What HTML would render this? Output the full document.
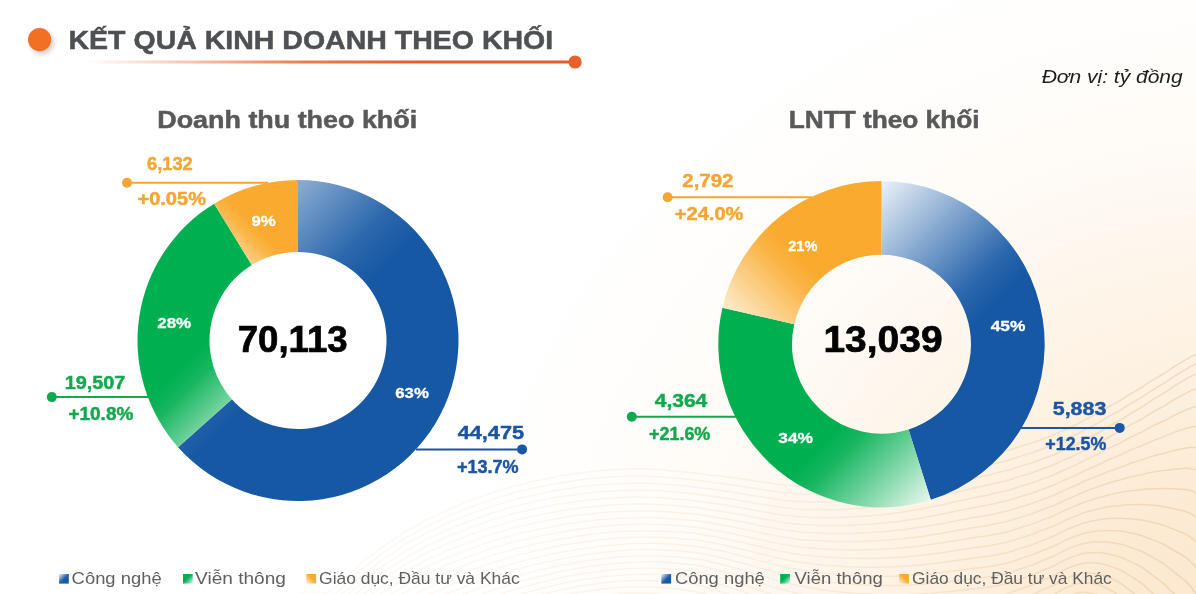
<!DOCTYPE html>
<html lang="vi"><head><meta charset="utf-8"><title>Kết quả kinh doanh theo khối</title>
<style>
html,body{margin:0;padding:0;}
body{width:1196px;height:594px;overflow:hidden;background:#fff;font-family:"Liberation Sans",sans-serif;}
#bg{position:absolute;left:0;top:0;width:1196px;height:594px;
background:radial-gradient(ellipse 830px 750px at 1250px 650px, #FCE8CD 0%, #FCE8CF 7.5%, #FCEAD3 20%, #FDEFDD 33%, #FEF4E7 47%, #FEF8F1 60%, #FFFCF8 73%, #FFFEFD 87%, #FFFFFF 100%);}
svg{position:absolute;left:0;top:0;font-family:"Liberation Sans",sans-serif;}
</style></head><body>
<div id="bg"></div>
<svg width="1196" height="594" viewBox="0 0 1196 594">
<defs><linearGradient id="Lb" gradientUnits="userSpaceOnUse" x1="178.06" y1="180.00" x2="478.78" y2="480.72"><stop offset="0" stop-color="#ECF2F8"/><stop offset="0.402" stop-color="#2B67AC"/><stop offset="0.49" stop-color="#1658A4"/><stop offset="1" stop-color="#1658A4"/></linearGradient><linearGradient id="Lg" gradientUnits="userSpaceOnUse" x1="251.78" y1="447.15" x2="72.88" y2="268.25"><stop offset="0" stop-color="#F0FAF4"/><stop offset="0.344" stop-color="#17B660"/><stop offset="0.42" stop-color="#00AF50"/><stop offset="1" stop-color="#00AF50"/></linearGradient><linearGradient id="Lo" gradientUnits="userSpaceOnUse" x1="214.18" y1="265.03" x2="298.60" y2="180.60"><stop offset="0" stop-color="#FEF5E6"/><stop offset="0.394" stop-color="#FAB342"/><stop offset="0.48" stop-color="#FAAB2F"/><stop offset="1" stop-color="#FAAB2F"/></linearGradient><linearGradient id="Rb" gradientUnits="userSpaceOnUse" x1="881.50" y1="181.00" x2="1122.49" y2="421.99"><stop offset="0" stop-color="#ECF2F8"/><stop offset="0.402" stop-color="#2B67AC"/><stop offset="0.49" stop-color="#1658A4"/><stop offset="1" stop-color="#1658A4"/></linearGradient><linearGradient id="Rg" gradientUnits="userSpaceOnUse" x1="930.77" y1="507.40" x2="724.70" y2="301.33"><stop offset="0" stop-color="#F0FAF4"/><stop offset="0.344" stop-color="#17B660"/><stop offset="0.42" stop-color="#00AF50"/><stop offset="1" stop-color="#00AF50"/></linearGradient><linearGradient id="Ro" gradientUnits="userSpaceOnUse" x1="722.43" y1="324.20" x2="873.56" y2="173.06"><stop offset="0" stop-color="#FEF5E6"/><stop offset="0.394" stop-color="#FAB342"/><stop offset="0.48" stop-color="#FAAB2F"/><stop offset="1" stop-color="#FAAB2F"/></linearGradient><linearGradient id="sqb59" gradientUnits="userSpaceOnUse" x1="59.00" y1="574.00" x2="68.70" y2="583.70"><stop offset="0" stop-color="#ECF2F8"/><stop offset="0.492" stop-color="#2B67AC"/><stop offset="0.6" stop-color="#1658A4"/><stop offset="1" stop-color="#1658A4"/></linearGradient><linearGradient id="sqg183" gradientUnits="userSpaceOnUse" x1="192.80" y1="583.60" x2="183.10" y2="573.90"><stop offset="0" stop-color="#F0FAF4"/><stop offset="0.492" stop-color="#17B660"/><stop offset="0.6" stop-color="#00AF50"/><stop offset="1" stop-color="#00AF50"/></linearGradient><linearGradient id="sqo306" gradientUnits="userSpaceOnUse" x1="306.30" y1="583.60" x2="316.00" y2="573.90"><stop offset="0" stop-color="#FEF5E6"/><stop offset="0.492" stop-color="#FAB342"/><stop offset="0.6" stop-color="#FAAB2F"/><stop offset="1" stop-color="#FAAB2F"/></linearGradient><linearGradient id="sqb661" gradientUnits="userSpaceOnUse" x1="661.30" y1="574.00" x2="671.00" y2="583.70"><stop offset="0" stop-color="#ECF2F8"/><stop offset="0.492" stop-color="#2B67AC"/><stop offset="0.6" stop-color="#1658A4"/><stop offset="1" stop-color="#1658A4"/></linearGradient><linearGradient id="sqg780" gradientUnits="userSpaceOnUse" x1="790.00" y1="583.60" x2="780.30" y2="573.90"><stop offset="0" stop-color="#F0FAF4"/><stop offset="0.492" stop-color="#17B660"/><stop offset="0.6" stop-color="#00AF50"/><stop offset="1" stop-color="#00AF50"/></linearGradient><linearGradient id="sqo899" gradientUnits="userSpaceOnUse" x1="899.10" y1="583.60" x2="908.80" y2="573.90"><stop offset="0" stop-color="#FEF5E6"/><stop offset="0.492" stop-color="#FAB342"/><stop offset="0.6" stop-color="#FAAB2F"/><stop offset="1" stop-color="#FAAB2F"/></linearGradient><linearGradient id="tl" gradientUnits="userSpaceOnUse" x1="85" y1="0" x2="576" y2="0"><stop offset="0" stop-color="#E9632B" stop-opacity="0"/><stop offset="0.2" stop-color="#E9632B" stop-opacity="0.35"/><stop offset="0.45" stop-color="#E9632B" stop-opacity="0.85"/><stop offset="0.7" stop-color="#E55A26"/><stop offset="1" stop-color="#E55A26"/></linearGradient><filter id="sh" x="-50%" y="-50%" width="200%" height="200%"><feGaussianBlur stdDeviation="2.5"/></filter><linearGradient id="wv" gradientUnits="userSpaceOnUse" x1="330" y1="0" x2="1196" y2="0"><stop offset="0" stop-color="#E6C7A2" stop-opacity="0.10"/><stop offset="0.5" stop-color="#E6C7A2" stop-opacity="0.20"/><stop offset="1" stop-color="#E2BE95" stop-opacity="0.45"/></linearGradient></defs>
<g fill="none" stroke="url(#wv)" stroke-width="1.5" stroke-linejoin="round"><path d="M300,594.0Q311,594.0 316,594.0Q322,594.0 328,592.4Q333,590.8 338,585.1Q344,579.4 350,574.1Q355,568.9 360,564.2Q366,559.4 372,555.1Q377,550.9 382,546.9Q388,543.0 394,539.3Q399,535.7 404,532.3Q410,528.9 416,525.8Q421,522.7 426,519.9Q432,517.1 438,514.6Q443,512.0 448,509.6Q454,507.2 460,505.0Q465,502.7 470,500.6Q476,498.5 482,496.5Q487,494.5 492,492.7Q498,490.9 504,489.2Q509,487.6 514,486.1Q520,484.6 526,483.2Q531,481.9 536,480.7Q542,479.5 548,478.4Q553,477.3 558,476.3Q564,475.3 570,474.5Q575,473.6 580,472.9Q586,472.2 592,471.6Q597,471.0 602,470.6Q608,470.1 614,469.8Q619,469.5 624,469.3Q630,469.1 636,469.1Q641,469.0 646,469.1Q652,469.3 658,469.6Q663,469.9 668,470.4Q674,470.8 680,471.4Q685,472.0 690,472.6Q696,473.2 702,473.9Q707,474.5 712,475.2Q718,475.8 724,476.4Q729,477.1 734,477.9Q740,478.6 746,479.5Q751,480.3 756,481.2Q762,482.0 768,482.8Q773,483.6 778,484.3Q784,484.9 790,485.3Q795,485.8 800,485.9Q806,486.1 812,486.1Q817,486.1 822,486.0Q828,485.9 834,485.6Q839,485.3 844,484.9Q850,484.5 856,483.9Q861,483.4 866,482.7Q872,482.1 878,481.3Q883,480.5 888,479.7Q894,478.8 900,477.7Q905,476.7 910,475.5Q916,474.3 922,473.0Q927,471.7 932,470.3Q938,469.0 944,467.5Q949,466.0 954,464.5Q960,463.0 966,461.5Q971,460.1 976,458.6Q982,457.2 988,455.8Q993,454.4 998,452.9Q1004,451.4 1010,449.8Q1015,448.3 1020,446.6Q1026,444.9 1032,443.0Q1037,441.2 1042,439.2Q1048,437.1 1054,434.8Q1059,432.6 1064,430.1Q1070,427.5 1076,424.8Q1081,422.1 1086,419.2Q1092,416.3 1098,413.2Q1103,410.2 1108,407.0Q1114,403.9 1120,400.6Q1125,397.3 1130,394.0Q1136,390.7 1142,387.3Q1147,383.9 1152,380.4Q1158,377.0 1164,373.5Q1169,370.1 1174,366.6Q1180,363.1 1186,359.6Q1191,356.2 1196,354.6Q1202,353.0 1208,353.0L1213,353.0"/><path d="M300,600.6Q311,600.5 316,600.5Q322,600.5 328,598.9Q333,597.3 338,591.6Q344,585.9 350,580.6Q355,575.4 360,570.7Q366,565.9 372,561.6Q377,557.3 382,553.4Q388,549.5 394,545.8Q399,542.1 404,538.7Q410,535.4 416,532.3Q421,529.2 426,526.4Q432,523.6 438,521.1Q443,518.5 448,516.1Q454,513.8 460,511.5Q465,509.3 470,507.2Q476,505.1 482,503.1Q487,501.2 492,499.4Q498,497.6 504,495.9Q509,494.3 514,492.8Q520,491.3 526,490.0Q531,488.7 536,487.5Q542,486.3 548,485.2Q553,484.1 558,483.2Q564,482.2 570,481.4Q575,480.6 580,479.8Q586,479.1 592,478.6Q597,478.0 602,477.6Q608,477.1 614,476.8Q619,476.5 624,476.3Q630,476.1 636,476.1Q641,476.0 646,476.2Q652,476.3 658,476.6Q663,477.0 668,477.4Q674,477.9 680,478.4Q685,479.0 690,479.6Q696,480.3 702,480.9Q707,481.6 712,482.3Q718,483.0 724,483.7Q729,484.4 734,485.2Q740,486.0 746,486.9Q751,487.8 756,488.7Q762,489.6 768,490.4Q773,491.2 778,491.9Q784,492.6 790,493.1Q795,493.5 800,493.8Q806,494.0 812,494.1Q817,494.1 822,494.0Q828,493.9 834,493.7Q839,493.4 844,493.1Q850,492.7 856,492.2Q861,491.7 866,491.1Q872,490.5 878,489.8Q883,489.1 888,488.2Q894,487.4 900,486.4Q905,485.4 910,484.3Q916,483.2 922,481.9Q927,480.7 932,479.4Q938,478.1 944,476.6Q949,475.2 954,473.8Q960,472.4 966,470.9Q971,469.5 976,468.2Q982,466.8 988,465.5Q993,464.1 998,462.7Q1004,461.3 1010,459.7Q1015,458.1 1020,456.4Q1026,454.8 1032,452.9Q1037,451.1 1042,449.0Q1048,447.0 1054,444.7Q1059,442.4 1064,439.9Q1070,437.4 1076,434.7Q1081,432.0 1086,429.1Q1092,426.2 1098,423.1Q1103,420.1 1108,416.9Q1114,413.7 1120,410.5Q1125,407.2 1130,403.9Q1136,400.5 1142,397.1Q1147,393.7 1152,390.3Q1158,386.8 1164,383.4Q1169,379.9 1174,376.4Q1180,372.9 1186,369.4Q1191,365.9 1196,364.3Q1202,362.7 1208,362.7L1213,362.7"/><path d="M300,607.1Q311,607.0 316,607.0Q322,607.0 328,605.4Q333,603.7 338,598.0Q344,592.3 350,587.1Q355,581.9 360,577.1Q366,572.4 372,568.1Q377,563.8 382,559.9Q388,555.9 394,552.3Q399,548.6 404,545.3Q410,541.9 416,538.8Q421,535.8 426,533.0Q432,530.2 438,527.7Q443,525.1 448,522.8Q454,520.4 460,518.2Q465,516.0 470,513.9Q476,511.8 482,509.9Q487,507.9 492,506.1Q498,504.3 504,502.7Q509,501.1 514,499.6Q520,498.2 526,496.9Q531,495.6 536,494.4Q542,493.2 548,492.1Q553,491.1 558,490.1Q564,489.2 570,488.4Q575,487.5 580,486.8Q586,486.1 592,485.6Q597,485.0 602,484.6Q608,484.2 614,483.8Q619,483.5 624,483.4Q630,483.2 636,483.1Q641,483.1 646,483.2Q652,483.3 658,483.7Q663,484.0 668,484.4Q674,484.9 680,485.4Q685,486.0 690,486.6Q696,487.2 702,487.9Q707,488.6 712,489.3Q718,490.1 724,490.8Q729,491.5 734,492.4Q740,493.3 746,494.2Q751,495.1 756,496.1Q762,497.0 768,497.9Q773,498.8 778,499.5Q784,500.2 790,500.7Q795,501.2 800,501.5Q806,501.8 812,501.9Q817,502.0 822,501.9Q828,501.9 834,501.7Q839,501.5 844,501.2Q850,500.9 856,500.4Q861,500.0 866,499.4Q872,498.9 878,498.2Q883,497.6 888,496.8Q894,496.0 900,495.1Q905,494.2 910,493.1Q916,492.0 922,490.9Q927,489.7 932,488.4Q938,487.2 944,485.8Q949,484.5 954,483.1Q960,481.8 966,480.4Q971,479.1 976,477.8Q982,476.5 988,475.2Q993,474.0 998,472.6Q1004,471.2 1010,469.6Q1015,468.1 1020,466.4Q1026,464.7 1032,462.9Q1037,461.0 1042,459.0Q1048,456.9 1054,454.7Q1059,452.4 1064,449.9Q1070,447.4 1076,444.7Q1081,441.9 1086,439.0Q1092,436.1 1098,433.1Q1103,430.0 1108,426.8Q1114,423.7 1120,420.4Q1125,417.1 1130,413.8Q1136,410.4 1142,407.0Q1147,403.6 1152,400.1Q1158,396.7 1164,393.2Q1169,389.7 1174,386.2Q1180,382.7 1186,379.2Q1191,375.7 1196,374.1Q1202,372.5 1208,372.5L1213,372.4"/><path d="M344,598.8Q355,588.3 360,583.6Q366,578.9 372,574.6Q377,570.3 382,566.4Q388,562.5 394,558.8Q399,555.2 404,551.8Q410,548.5 416,545.4Q421,542.4 426,539.6Q432,536.9 438,534.3Q443,531.8 448,529.5Q454,527.1 460,524.9Q465,522.7 470,520.7Q476,518.6 482,516.7Q487,514.7 492,513.0Q498,511.2 504,509.6Q509,508.0 514,506.6Q520,505.1 526,503.8Q531,502.5 536,501.3Q542,500.2 548,499.1Q553,498.1 558,497.1Q564,496.2 570,495.4Q575,494.6 580,493.9Q586,493.2 592,492.6Q597,492.1 602,491.6Q608,491.2 614,490.9Q619,490.6 624,490.4Q630,490.2 636,490.2Q641,490.1 646,490.2Q652,490.3 658,490.6Q663,491.0 668,491.4Q674,491.8 680,492.4Q685,492.9 690,493.5Q696,494.1 702,494.8Q707,495.6 712,496.3Q718,497.1 724,497.9Q729,498.6 734,499.5Q740,500.5 746,501.4Q751,502.4 756,503.4Q762,504.4 768,505.3Q773,506.2 778,507.0Q784,507.7 790,508.3Q795,508.9 800,509.2Q806,509.5 812,509.6Q817,509.8 822,509.8Q828,509.8 834,509.7Q839,509.5 844,509.3Q850,509.0 856,508.6Q861,508.2 866,507.7Q872,507.3 878,506.7Q883,506.1 888,505.3Q894,504.6 900,503.8Q905,502.9 910,501.9Q916,500.9 922,499.8Q927,498.7 932,497.5Q938,496.3 944,495.1Q949,493.8 954,492.5Q960,491.2 966,490.0Q971,488.7 976,487.5Q982,486.3 988,485.1Q993,483.9 998,482.6Q1004,481.2 1010,479.7Q1015,478.1 1020,476.4Q1026,474.7 1032,472.9Q1037,471.0 1042,469.0Q1048,467.0 1054,464.7Q1059,462.4 1064,459.9Q1070,457.4 1076,454.7Q1081,452.0 1086,449.2Q1092,446.4 1098,443.5Q1103,440.5 1108,437.5Q1114,434.5 1120,431.4Q1125,428.3 1130,425.2Q1136,422.0 1142,418.9Q1147,415.7 1152,412.5Q1158,409.3 1164,406.1Q1169,402.8 1174,399.6Q1180,396.4 1186,393.3Q1191,390.1 1196,388.8Q1202,387.6 1208,387.9L1213,388.3"/><path d="M344,605.2Q355,594.8 360,590.1Q366,585.4 372,581.1Q377,576.8 382,572.9Q388,569.0 394,565.4Q399,561.8 404,558.5Q410,555.1 416,552.1Q421,549.1 426,546.3Q432,543.6 438,541.1Q443,538.6 448,536.3Q454,533.9 460,531.8Q465,529.6 470,527.6Q476,525.5 482,523.6Q487,521.6 492,519.9Q498,518.2 504,516.6Q509,515.0 514,513.5Q520,512.1 526,510.8Q531,509.5 536,508.4Q542,507.2 548,506.2Q553,505.1 558,504.2Q564,503.3 570,502.5Q575,501.6 580,500.9Q586,500.3 592,499.7Q597,499.1 602,498.7Q608,498.2 614,497.9Q619,497.6 624,497.4Q630,497.2 636,497.1Q641,497.1 646,497.2Q652,497.3 658,497.6Q663,497.9 668,498.3Q674,498.7 680,499.2Q685,499.8 690,500.3Q696,500.9 702,501.7Q707,502.4 712,503.2Q718,504.0 724,504.8Q729,505.7 734,506.6Q740,507.5 746,508.6Q751,509.6 756,510.6Q762,511.6 768,512.6Q773,513.6 778,514.4Q784,515.2 790,515.8Q795,516.4 800,516.8Q806,517.2 812,517.4Q817,517.5 822,517.6Q828,517.7 834,517.6Q839,517.5 844,517.3Q850,517.1 856,516.8Q861,516.5 866,516.1Q872,515.6 878,515.1Q883,514.6 888,513.9Q894,513.3 900,512.5Q905,511.7 910,510.8Q916,509.9 922,508.8Q927,507.8 932,506.7Q938,505.6 944,504.4Q949,503.2 954,502.0Q960,500.8 966,499.6Q971,498.4 976,497.3Q982,496.2 988,495.0Q993,493.9 998,492.6Q1004,491.3 1010,489.8Q1015,488.2 1020,486.5Q1026,484.9 1032,483.0Q1037,481.2 1042,479.1Q1048,477.1 1054,474.8Q1059,472.5 1064,470.0Q1070,467.5 1076,464.9Q1081,462.3 1086,459.6Q1092,456.9 1098,454.1Q1103,451.4 1108,448.6Q1114,445.9 1120,443.1Q1125,440.3 1130,437.5Q1136,434.7 1142,431.9Q1147,429.1 1152,426.3Q1158,423.6 1164,420.8Q1169,418.1 1174,415.4Q1180,412.7 1186,410.0Q1191,407.4 1196,406.7Q1202,406.0 1208,407.0L1213,408.0"/><path d="M355,601.3Q366,591.9 372,587.7Q377,583.4 382,579.6Q388,575.7 394,572.1Q399,568.5 404,565.2Q410,561.8 416,558.9Q421,555.9 426,553.1Q432,550.4 438,547.9Q443,545.5 448,543.1Q454,540.8 460,538.7Q465,536.5 470,534.5Q476,532.5 482,530.6Q487,528.7 492,526.9Q498,525.2 504,523.6Q509,522.0 514,520.6Q520,519.2 526,517.9Q531,516.6 536,515.5Q542,514.3 548,513.3Q553,512.2 558,511.3Q564,510.3 570,509.5Q575,508.7 580,508.0Q586,507.3 592,506.7Q597,506.2 602,505.7Q608,505.2 614,504.9Q619,504.6 624,504.4Q630,504.2 636,504.1Q641,504.0 646,504.1Q652,504.2 658,504.4Q663,504.7 668,505.1Q674,505.5 680,506.0Q685,506.5 690,507.1Q696,507.6 702,508.4Q707,509.2 712,510.0Q718,510.8 724,511.7Q729,512.6 734,513.6Q740,514.5 746,515.6Q751,516.7 756,517.8Q762,518.8 768,519.8Q773,520.8 778,521.7Q784,522.6 790,523.2Q795,523.9 800,524.3Q806,524.8 812,525.0Q817,525.3 822,525.4Q828,525.5 834,525.5Q839,525.5 844,525.4Q850,525.2 856,525.0Q861,524.7 866,524.4Q872,524.0 878,523.6Q883,523.1 888,522.5Q894,522.0 900,521.3Q905,520.6 910,519.7Q916,518.9 922,517.9Q927,517.0 932,515.9Q938,514.9 944,513.8Q949,512.7 954,511.6Q960,510.4 966,509.3Q971,508.2 976,507.2Q982,506.1 988,505.1Q993,504.0 998,502.8Q1004,501.5 1010,500.0Q1015,498.4 1020,496.7Q1026,495.1 1032,493.2Q1037,491.4 1042,489.3Q1048,487.3 1054,485.0Q1059,482.7 1064,480.2Q1070,477.7 1076,475.1Q1081,472.5 1086,470.0Q1092,467.5 1098,465.0Q1103,462.5 1108,460.0Q1114,457.6 1120,455.1Q1125,452.7 1130,450.3Q1136,447.9 1142,445.6Q1147,443.3 1152,441.1Q1158,438.8 1164,436.6Q1169,434.5 1174,432.4Q1180,430.3 1186,428.4Q1191,426.4 1196,426.4Q1202,426.5 1208,428.2L1213,430.0"/><path d="M355,607.9Q366,598.6 372,594.3Q377,590.1 382,586.3Q388,582.4 394,578.8Q399,575.3 404,572.0Q410,568.7 416,565.7Q421,562.7 426,560.0Q432,557.3 438,554.9Q443,552.4 448,550.1Q454,547.8 460,545.7Q465,543.6 470,541.6Q476,539.5 482,537.6Q487,535.7 492,534.0Q498,532.3 504,530.7Q509,529.1 514,527.7Q520,526.3 526,525.0Q531,523.7 536,522.6Q542,521.4 548,520.3Q553,519.3 558,518.4Q564,517.4 570,516.6Q575,515.7 580,515.0Q586,514.3 592,513.7Q597,513.1 602,512.7Q608,512.2 614,511.8Q619,511.5 624,511.2Q630,511.0 636,510.9Q641,510.8 646,510.9Q652,510.9 658,511.2Q663,511.4 668,511.8Q674,512.2 680,512.7Q685,513.2 690,513.7Q696,514.3 702,515.0Q707,515.8 712,516.7Q718,517.6 724,518.5Q729,519.4 734,520.4Q740,521.5 746,522.6Q751,523.7 756,524.8Q762,525.9 768,527.0Q773,528.1 778,529.0Q784,529.9 790,530.6Q795,531.4 800,531.9Q806,532.4 812,532.7Q817,533.0 822,533.2Q828,533.4 834,533.4Q839,533.5 844,533.4Q850,533.4 856,533.2Q861,533.0 866,532.8Q872,532.5 878,532.1Q883,531.7 888,531.2Q894,530.7 900,530.1Q905,529.5 910,528.7Q916,528.0 922,527.1Q927,526.2 932,525.3Q938,524.3 944,523.3Q949,522.3 954,521.2Q960,520.2 966,519.1Q971,518.1 976,517.1Q982,516.2 988,515.2Q993,514.2 998,513.0Q1004,511.8 1010,510.3Q1015,508.7 1020,507.0Q1026,505.3 1032,503.5Q1037,501.6 1042,499.6Q1048,497.5 1054,495.2Q1059,492.9 1064,490.4Q1070,487.8 1076,485.3Q1081,482.8 1086,480.5Q1092,478.2 1098,475.9Q1103,473.7 1108,471.6Q1114,469.5 1120,467.4Q1125,465.4 1130,463.5Q1136,461.6 1142,459.9Q1147,458.1 1152,456.4Q1158,454.8 1164,453.3Q1169,451.8 1174,450.4Q1180,449.1 1186,447.9Q1191,446.7 1196,447.5Q1202,448.4 1208,451.0L1213,453.7"/><path d="M366,605.3Q377,596.9 382,593.1Q388,589.3 394,585.7Q399,582.2 404,578.9Q410,575.6 416,572.7Q421,569.7 426,567.0Q432,564.4 438,561.9Q443,559.5 448,557.2Q454,554.9 460,552.8Q465,550.7 470,548.7Q476,546.7 482,544.8Q487,542.9 492,541.1Q498,539.4 504,537.8Q509,536.3 514,534.8Q520,533.4 526,532.1Q531,530.8 536,529.7Q542,528.5 548,527.4Q553,526.4 558,525.4Q564,524.4 570,523.6Q575,522.7 580,522.0Q586,521.3 592,520.7Q597,520.0 602,519.5Q608,519.1 614,518.7Q619,518.3 624,518.0Q630,517.8 636,517.7Q641,517.5 646,517.6Q652,517.6 658,517.8Q663,518.1 668,518.4Q674,518.8 680,519.3Q685,519.7 690,520.3Q696,520.8 702,521.6Q707,522.4 712,523.3Q718,524.2 724,525.2Q729,526.2 734,527.2Q740,528.3 746,529.5Q751,530.7 756,531.8Q762,533.0 768,534.1Q773,535.3 778,536.3Q784,537.2 790,538.0Q795,538.8 800,539.4Q806,540.0 812,540.3Q817,540.7 822,541.0Q828,541.3 834,541.4Q839,541.6 844,541.6Q850,541.6 856,541.5Q861,541.4 866,541.2Q872,541.0 878,540.7Q883,540.4 888,540.0Q894,539.6 900,539.1Q905,538.5 910,537.8Q916,537.2 922,536.4Q927,535.6 932,534.7Q938,533.9 944,532.9Q949,532.0 954,531.0Q960,530.0 966,529.0Q971,528.1 976,527.2Q982,526.3 988,525.4Q993,524.5 998,523.3Q1004,522.2 1010,520.6Q1015,519.1 1020,517.4Q1026,515.6 1032,513.8Q1037,511.9 1042,509.8Q1048,507.8 1054,505.4Q1059,503.1 1064,500.6Q1070,498.0 1076,495.6Q1081,493.2 1086,491.0Q1092,488.9 1098,486.9Q1103,485.0 1108,483.3Q1114,481.5 1120,480.0Q1125,478.4 1130,477.0Q1136,475.7 1142,474.5Q1147,473.3 1152,472.3Q1158,471.4 1164,470.6Q1169,469.8 1174,469.2Q1180,468.7 1186,468.3Q1191,468.0 1196,469.8Q1202,471.5 1208,475.2L1213,478.8"/><path d="M377,603.8Q388,596.2 394,592.7Q399,589.2 404,585.9Q410,582.7 416,579.7Q421,576.8 426,574.1Q432,571.5 438,569.0Q443,566.6 448,564.3Q454,562.1 460,559.9Q465,557.8 470,555.8Q476,553.8 482,551.9Q487,550.0 492,548.3Q498,546.6 504,545.0Q509,543.4 514,542.0Q520,540.5 526,539.2Q531,537.9 536,536.7Q542,535.5 548,534.5Q553,533.4 558,532.4Q564,531.4 570,530.5Q575,529.7 580,528.9Q586,528.1 592,527.5Q597,526.9 602,526.3Q608,525.8 614,525.4Q619,525.0 624,524.7Q630,524.5 636,524.3Q641,524.2 646,524.2Q652,524.2 658,524.4Q663,524.6 668,525.0Q674,525.3 680,525.8Q685,526.2 690,526.7Q696,527.2 702,528.1Q707,528.9 712,529.9Q718,530.8 724,531.8Q729,532.8 734,534.0Q740,535.1 746,536.4Q751,537.6 756,538.8Q762,540.1 768,541.3Q773,542.5 778,543.5Q784,544.6 790,545.4Q795,546.3 800,546.9Q806,547.6 812,548.1Q817,548.5 822,548.9Q828,549.2 834,549.4Q839,549.7 844,549.8Q850,549.9 856,549.9Q861,549.9 866,549.8Q872,549.6 878,549.4Q883,549.2 888,548.9Q894,548.6 900,548.1Q905,547.7 910,547.1Q916,546.5 922,545.8Q927,545.1 932,544.3Q938,543.5 944,542.6Q949,541.7 954,540.8Q960,539.9 966,539.0Q971,538.2 976,537.3Q982,536.5 988,535.7Q993,534.8 998,533.7Q1004,532.6 1010,531.0Q1015,529.4 1020,527.7Q1026,526.0 1032,524.1Q1037,522.2 1042,520.1Q1048,518.0 1054,515.7Q1059,513.3 1064,510.7Q1070,508.1 1076,505.8Q1081,503.4 1086,501.5Q1092,499.6 1098,498.0Q1103,496.3 1108,495.0Q1114,493.7 1120,492.6Q1125,491.6 1130,490.8Q1136,490.0 1142,489.4Q1147,488.9 1152,488.7Q1158,488.4 1164,488.4Q1169,488.4 1174,488.7Q1180,489.0 1186,489.6Q1191,490.2 1196,493.0Q1202,495.7 1208,500.5L1213,505.2"/><path d="M388,603.3Q399,596.2 404,593.0Q410,589.8 416,586.9Q421,583.9 426,581.3Q432,578.6 438,576.2Q443,573.8 448,571.5Q454,569.3 460,567.1Q465,565.0 470,563.0Q476,561.0 482,559.1Q487,557.2 492,555.4Q498,553.7 504,552.1Q509,550.5 514,549.1Q520,547.6 526,546.3Q531,545.0 536,543.7Q542,542.5 548,541.4Q553,540.3 558,539.3Q564,538.3 570,537.4Q575,536.5 580,535.7Q586,534.9 592,534.3Q597,533.6 602,533.0Q608,532.5 614,532.1Q619,531.6 624,531.3Q630,531.0 636,530.8Q641,530.7 646,530.7Q652,530.7 658,530.9Q663,531.0 668,531.4Q674,531.7 680,532.1Q685,532.6 690,533.1Q696,533.6 702,534.4Q707,535.3 712,536.3Q718,537.4 724,538.4Q729,539.5 734,540.7Q740,541.9 746,543.2Q751,544.5 756,545.8Q762,547.1 768,548.4Q773,549.7 778,550.8Q784,551.9 790,552.9Q795,553.8 800,554.6Q806,555.3 812,555.8Q817,556.4 822,556.8Q828,557.3 834,557.6Q839,557.9 844,558.1Q850,558.2 856,558.3Q861,558.4 866,558.4Q872,558.4 878,558.2Q883,558.1 888,557.9Q894,557.6 900,557.3Q905,556.9 910,556.4Q916,555.9 922,555.3Q927,554.6 932,553.9Q938,553.2 944,552.4Q949,551.6 954,550.8Q960,549.9 966,549.1Q971,548.3 976,547.5Q982,546.8 988,546.0Q993,545.2 998,544.1Q1004,543.0 1010,541.4Q1015,539.8 1020,538.1Q1026,536.3 1032,534.4Q1037,532.5 1042,530.4Q1048,528.2 1054,525.9Q1059,523.5 1064,520.8Q1070,518.2 1076,515.9Q1081,513.7 1086,512.0Q1092,510.3 1098,509.0Q1103,507.7 1108,506.8Q1114,505.9 1120,505.4Q1125,504.8 1130,504.7Q1136,504.5 1142,504.6Q1147,504.8 1152,505.3Q1158,505.8 1164,506.7Q1169,507.6 1174,508.8Q1180,510.0 1186,511.6Q1191,513.2 1196,517.0Q1202,520.9 1208,526.7L1213,532.6"/><path d="M399,603.4Q410,597.0 416,594.1Q421,591.2 426,588.5Q432,585.9 438,583.4Q443,581.0 448,578.7Q454,576.5 460,574.4Q465,572.2 470,570.2Q476,568.2 482,566.3Q487,564.3 492,562.6Q498,560.8 504,559.2Q509,557.6 514,556.1Q520,554.6 526,553.3Q531,551.9 536,550.7Q542,549.4 548,548.3Q553,547.2 558,546.1Q564,545.1 570,544.1Q575,543.2 580,542.4Q586,541.6 592,540.9Q597,540.2 602,539.6Q608,539.0 614,538.6Q619,538.1 624,537.8Q630,537.5 636,537.3Q641,537.1 646,537.1Q652,537.0 658,537.2Q663,537.4 668,537.7Q674,538.0 680,538.5Q685,538.9 690,539.4Q696,539.9 702,540.8Q707,541.7 712,542.8Q718,543.9 724,545.0Q729,546.1 734,547.4Q740,548.7 746,550.1Q751,551.4 756,552.8Q762,554.2 768,555.6Q773,556.9 778,558.1Q784,559.4 790,560.4Q795,561.4 800,562.2Q806,563.0 812,563.7Q817,564.3 822,564.9Q828,565.4 834,565.8Q839,566.2 844,566.5Q850,566.7 856,566.9Q861,567.1 866,567.2Q872,567.2 878,567.2Q883,567.1 888,567.0Q894,566.8 900,566.5Q905,566.3 910,565.8Q916,565.4 922,564.8Q927,564.3 932,563.7Q938,563.0 944,562.3Q949,561.5 954,560.8Q960,560.0 966,559.2Q971,558.5 976,557.8Q982,557.1 988,556.3Q993,555.6 998,554.5Q1004,553.5 1010,551.8Q1015,550.2 1020,548.4Q1026,546.7 1032,544.7Q1037,542.7 1042,540.6Q1048,538.4 1054,536.0Q1059,533.6 1064,530.9Q1070,528.2 1076,526.0Q1081,523.8 1086,522.4Q1092,520.9 1098,520.0Q1103,519.0 1108,518.6Q1114,518.2 1120,518.2Q1125,518.2 1130,518.7Q1136,519.2 1142,520.1Q1147,521.0 1152,522.3Q1158,523.7 1164,525.4Q1169,527.2 1174,529.4Q1180,531.6 1186,534.3Q1191,536.9 1196,541.9Q1202,546.9 1208,554.0L1213,561.1"/><path d="M410,604.2Q421,598.4 426,595.8Q432,593.1 438,590.7Q443,588.3 448,586.0Q454,583.7 460,581.6Q465,579.4 470,577.4Q476,575.3 482,573.4Q487,571.4 492,569.6Q498,567.9 504,566.2Q509,564.6 514,563.1Q520,561.5 526,560.2Q531,558.8 536,557.5Q542,556.2 548,555.1Q553,553.9 558,552.8Q564,551.7 570,550.8Q575,549.8 580,549.0Q586,548.1 592,547.4Q597,546.7 602,546.1Q608,545.5 614,545.0Q619,544.5 624,544.2Q630,543.8 636,543.6Q641,543.4 646,543.4Q652,543.3 658,543.5Q663,543.7 668,544.0Q674,544.3 680,544.7Q685,545.2 690,545.7Q696,546.2 702,547.1Q707,548.1 712,549.2Q718,550.4 724,551.6Q729,552.8 734,554.2Q740,555.5 746,557.0Q751,558.4 756,559.9Q762,561.4 768,562.8Q773,564.2 778,565.6Q784,566.9 790,568.0Q795,569.1 800,570.0Q806,570.9 812,571.7Q817,572.4 822,573.0Q828,573.6 834,574.1Q839,574.6 844,575.0Q850,575.4 856,575.6Q861,575.9 866,576.0Q872,576.2 878,576.2Q883,576.3 888,576.2Q894,576.1 900,575.9Q905,575.7 910,575.3Q916,575.0 922,574.5Q927,574.0 932,573.5Q938,572.9 944,572.2Q949,571.5 954,570.8Q960,570.1 966,569.4Q971,568.7 976,568.0Q982,567.4 988,566.7Q993,566.0 998,564.9Q1004,563.9 1010,562.2Q1015,560.6 1020,558.7Q1026,556.9 1032,554.9Q1037,552.9 1042,550.7Q1048,548.5 1054,546.0Q1059,543.6 1064,540.8Q1070,538.1 1076,536.0Q1081,533.9 1086,532.7Q1092,531.4 1098,530.9Q1103,530.3 1108,530.4Q1114,530.4 1120,531.1Q1125,531.7 1130,532.8Q1136,534.0 1142,535.7Q1147,537.4 1152,539.6Q1158,541.8 1164,544.5Q1169,547.3 1174,550.5Q1180,553.8 1186,557.5Q1191,561.3 1196,567.5Q1202,573.7 1208,582.1L1213,590.5"/><path d="M421,605.7Q432,600.4 438,597.9Q443,595.5 448,593.2Q454,590.9 460,588.7Q465,586.5 470,584.5Q476,582.4 482,580.4Q487,578.5 492,576.6Q498,574.8 504,573.1Q509,571.5 514,569.9Q520,568.4 526,566.9Q531,565.5 536,564.2Q542,562.9 548,561.7Q553,560.5 558,559.4Q564,558.3 570,557.3Q575,556.3 580,555.4Q586,554.5 592,553.8Q597,553.0 602,552.4Q608,551.8 614,551.3Q619,550.8 624,550.4Q630,550.1 636,549.8Q641,549.6 646,549.6Q652,549.5 658,549.7Q663,549.9 668,550.2Q674,550.5 680,551.0Q685,551.4 690,551.9Q696,552.4 702,553.4Q707,554.4 712,555.7Q718,556.9 724,558.2Q729,559.5 734,560.9Q740,562.4 746,563.9Q751,565.5 756,567.0Q762,568.6 768,570.1Q773,571.7 778,573.1Q784,574.5 790,575.7Q795,576.9 800,577.9Q806,578.9 812,579.7Q817,580.6 822,581.3Q828,582.0 834,582.6Q839,583.2 844,583.6Q850,584.1 856,584.4Q861,584.8 866,585.0Q872,585.3 878,585.4Q883,585.5 888,585.5Q894,585.5 900,585.4Q905,585.2 910,585.0Q916,584.7 922,584.2Q927,583.8 932,583.3Q938,582.8 944,582.2Q949,581.6 954,580.9Q960,580.2 966,579.5Q971,578.9 976,578.3Q982,577.6 988,577.0Q993,576.3 998,575.3Q1004,574.3 1010,572.5Q1015,570.8 1020,569.0Q1026,567.1 1032,565.1Q1037,563.0 1042,560.7Q1048,558.5 1054,556.0Q1059,553.5 1064,550.7Q1070,547.9 1076,545.9Q1081,543.9 1086,542.9Q1092,541.9 1098,541.8Q1103,541.6 1108,542.2Q1114,542.7 1120,544.0Q1125,545.2 1130,547.1Q1136,549.0 1142,551.5Q1147,554.0 1152,557.1Q1158,560.2 1164,564.0Q1169,567.7 1174,572.1Q1180,576.4 1186,581.4Q1191,586.3 1196,593.8L1202,601.3"/><path d="M432,607.6Q443,602.7 448,600.3Q454,598.0 460,595.8Q465,593.6 470,591.5Q476,589.4 482,587.4Q487,585.4 492,583.5Q498,581.7 504,579.9Q509,578.2 514,576.6Q520,575.1 526,573.6Q531,572.1 536,570.8Q542,569.5 548,568.2Q553,567.0 558,565.8Q564,564.7 570,563.7Q575,562.6 580,561.7Q586,560.8 592,560.1Q597,559.3 602,558.7Q608,558.0 614,557.5Q619,557.0 624,556.6Q630,556.3 636,556.0Q641,555.8 646,555.8Q652,555.7 658,555.9Q663,556.1 668,556.4Q674,556.7 680,557.2Q685,557.6 690,558.2Q696,558.7 702,559.8Q707,560.8 712,562.2Q718,563.5 724,564.9Q729,566.3 734,567.8Q740,569.3 746,571.0Q751,572.6 756,574.3Q762,575.9 768,577.6Q773,579.2 778,580.7Q784,582.2 790,583.5Q795,584.8 800,585.9Q806,587.0 812,588.0Q817,588.9 822,589.7Q828,590.5 834,591.2Q839,591.9 844,592.4Q850,592.9 856,593.4Q861,593.8 866,594.1Q872,594.4 878,594.6Q883,594.8 888,594.9Q894,595.0 900,594.9Q905,594.8 910,594.6Q916,594.4 922,594.0Q927,593.7 932,593.2Q938,592.7 944,592.1Q949,591.6 954,590.9Q960,590.3 966,589.7Q971,589.1 976,588.5Q982,587.9 988,587.2Q993,586.6 998,585.6Q1004,584.5 1010,582.8Q1015,581.0 1020,579.1Q1026,577.2 1032,575.1Q1037,573.0 1042,570.7Q1048,568.4 1054,565.8Q1059,563.2 1064,560.4Q1070,557.6 1076,555.6Q1081,553.7 1086,553.0Q1092,552.3 1098,552.5Q1103,552.8 1108,553.9Q1114,555.0 1120,556.9Q1125,558.8 1130,561.4Q1136,564.1 1142,567.4Q1147,570.8 1152,574.9Q1158,579.0 1164,583.8Q1169,588.6 1174,594.1L1180,599.6"/><path d="M443,609.8Q454,605.0 460,602.8Q465,600.6 470,598.4Q476,596.3 482,594.2Q487,592.2 492,590.3Q498,588.4 504,586.6Q509,584.9 514,583.2Q520,581.6 526,580.1Q531,578.6 536,577.2Q542,575.9 548,574.6Q553,573.3 558,572.1Q564,571.0 570,569.9Q575,568.9 580,568.0Q586,567.0 592,566.2Q597,565.5 602,564.8Q608,564.1 614,563.6Q619,563.1 624,562.7Q630,562.4 636,562.2Q641,561.9 646,561.9Q652,561.9 658,562.1Q663,562.3 668,562.6Q674,563.0 680,563.4Q685,563.9 690,564.5Q696,565.1 702,566.2Q707,567.3 712,568.7Q718,570.2 724,571.7Q729,573.1 734,574.8Q740,576.4 746,578.1Q751,579.9 756,581.7Q762,583.4 768,585.1Q773,586.9 778,588.5Q784,590.1 790,591.5Q795,592.9 800,594.1Q806,595.3 812,596.3Q817,597.3 822,598.2Q828,599.1 834,599.9Q839,600.7 844,601.3Q850,601.9 856,602.4Q861,602.9 866,603.3Q872,603.7 878,604.0Q883,604.2 888,604.4Q894,604.5 900,604.5Q905,604.5 910,604.3Q916,604.1 922,603.8Q927,603.5 932,603.1Q938,602.6 944,602.1Q949,601.6 954,600.9Q960,600.3 966,599.8Q971,599.2 976,598.6Q982,598.0 988,597.4Q993,596.8 998,595.8Q1004,594.7 1010,592.9Q1015,591.1 1020,589.1Q1026,587.1 1032,585.0Q1037,582.8 1042,580.5Q1048,578.1 1054,575.5Q1059,572.8 1064,570.0Q1070,567.1 1076,565.2Q1081,563.4 1086,563.0Q1092,562.6 1098,563.3Q1103,563.9 1108,565.6Q1114,567.3 1120,569.8Q1125,572.4 1130,575.8Q1136,579.3 1142,583.6Q1147,587.8 1152,592.9Q1158,598.0 1164,604.0L1169,609.9"/><path d="M465,607.4Q476,603.0 482,600.9Q487,598.8 492,596.9Q498,595.0 504,593.2Q509,591.4 514,589.7Q520,588.0 526,586.5Q531,585.0 536,583.6Q542,582.1 548,580.8Q553,579.5 558,578.3Q564,577.2 570,576.1Q575,575.0 580,574.1Q586,573.1 592,572.3Q597,571.5 602,570.9Q608,570.2 614,569.7Q619,569.2 624,568.8Q630,568.5 636,568.3Q641,568.1 646,568.1Q652,568.1 658,568.3Q663,568.5 668,568.9Q674,569.2 680,569.8Q685,570.3 690,570.9Q696,571.5 702,572.7Q707,573.9 712,575.4Q718,577.0 724,578.5Q729,580.1 734,581.9Q740,583.6 746,585.4Q751,587.3 756,589.2Q762,591.0 768,592.9Q773,594.7 778,596.4Q784,598.1 790,599.6Q795,601.1 800,602.4Q806,603.7 812,604.8Q817,605.9 822,606.9Q828,607.9 834,608.7Q839,609.6 905,609.4Q971,609.2 976,608.6Q982,608.1 988,607.5Q993,606.9 998,605.8Q1004,604.8 1010,602.9Q1015,601.0 1020,599.0Q1026,596.9 1032,594.7Q1037,592.5 1042,590.1Q1048,587.7 1054,585.0Q1059,582.3 1064,579.4Q1070,576.5 1076,574.7Q1081,573.0 1086,572.9Q1092,572.8 1098,573.9Q1103,575.0 1108,577.3Q1114,579.5 1120,582.8Q1125,586.1 1130,590.4Q1136,594.7 1142,599.9L1147,605.1"/><path d="M476,609.6Q487,605.4 492,603.4Q498,601.4 504,599.6Q509,597.7 514,596.0Q520,594.3 526,592.7Q531,591.2 536,589.7Q542,588.3 548,587.0Q553,585.6 558,584.4Q564,583.2 570,582.1Q575,581.1 580,580.1Q586,579.2 592,578.4Q597,577.6 602,576.9Q608,576.3 614,575.8Q619,575.3 624,574.9Q630,574.6 636,574.4Q641,574.2 646,574.2Q652,574.3 658,574.5Q663,574.8 668,575.2Q674,575.6 680,576.2Q685,576.7 690,577.4Q696,578.0 702,579.3Q707,580.6 712,582.2Q718,583.9 724,585.6Q729,587.3 734,589.1Q740,590.9 746,592.9Q751,594.8 756,596.8Q762,598.8 768,600.7Q773,602.6 778,604.4Q784,606.2 790,607.9Q795,609.5 910,608.0Q1026,606.6 1032,604.3Q1037,602.1 1042,599.6Q1048,597.1 1054,594.4Q1059,591.6 1064,588.7Q1070,585.7 1076,584.1Q1081,582.5 1086,582.7Q1092,582.9 1098,584.5Q1103,586.1 1108,589.0Q1114,591.8 1120,595.9L1125,599.9"/><path d="M498,607.7Q509,603.9 514,602.2Q520,600.4 526,598.8Q531,597.3 536,595.8Q542,594.3 548,593.0Q553,591.6 558,590.4Q564,589.2 570,588.1Q575,587.0 580,586.1Q586,585.2 592,584.4Q597,583.6 602,583.0Q608,582.3 614,581.8Q619,581.4 624,581.1Q630,580.7 636,580.6Q641,580.4 646,580.5Q652,580.6 658,580.9Q663,581.1 668,581.6Q674,582.1 680,582.7Q685,583.3 690,584.0Q696,584.7 702,586.1Q707,587.5 712,589.2Q718,590.9 724,592.7Q729,594.5 734,596.5Q740,598.4 746,600.5Q751,602.6 756,604.6Q762,606.7 905,606.6Q1048,606.4 1054,603.6Q1059,600.9 1064,597.8Q1070,594.8 1076,593.3Q1081,591.9 1086,592.4Q1092,592.9 1098,595.0Q1103,597.2 1108,600.7L1114,604.2"/><path d="M509,610.0Q520,606.5 526,604.8Q531,603.2 536,601.8Q542,600.3 548,598.9Q553,597.6 558,596.4Q564,595.2 570,594.1Q575,593.0 580,592.1Q586,591.1 592,590.4Q597,589.6 602,589.0Q608,588.4 614,588.0Q619,587.5 624,587.2Q630,587.0 636,586.9Q641,586.8 646,586.9Q652,587.0 658,587.3Q663,587.7 668,588.2Q674,588.7 680,589.4Q685,590.0 690,590.8Q696,591.5 702,593.0Q707,594.5 712,596.3Q718,598.2 724,600.1Q729,602.0 734,604.0Q740,606.1 900,608.0Q1059,610.0 1064,606.9Q1070,603.9 1076,602.5Q1081,601.2 1086,602.1Q1092,603.0 1098,605.6L1103,608.2"/><path d="M531,609.1Q542,606.2 548,604.8Q553,603.5 558,602.3Q564,601.1 570,600.0Q575,599.0 580,598.1Q586,597.2 592,596.4Q597,595.7 602,595.1Q608,594.6 614,594.2Q619,593.8 624,593.5Q630,593.3 636,593.2Q641,593.2 646,593.4Q652,593.5 658,593.9Q663,594.3 668,594.9Q674,595.5 680,596.2Q685,596.9 690,597.7Q696,598.5 702,600.1Q707,601.7 712,603.6Q718,605.6 724,607.6L729,609.6"/><path d="M553,609.4Q564,607.0 570,606.0Q575,605.0 580,604.1Q586,603.2 592,602.6Q597,601.9 602,601.3Q608,600.8 614,600.5Q619,600.1 624,599.9Q630,599.8 636,599.8Q641,599.8 646,600.0Q652,600.2 658,600.7Q663,601.1 668,601.8Q674,602.4 680,603.2Q685,604.0 690,604.8Q696,605.7 702,607.4L707,609.0"/><path d="M586,609.4Q597,608.1 602,607.7Q608,607.2 614,606.9Q619,606.6 624,606.5Q630,606.4 636,606.5Q641,606.5 646,606.8Q652,607.1 658,607.6Q663,608.1 668,608.8L674,609.5"/></g>
<circle cx="42" cy="42.5" r="11.5" fill="#7a6a60" opacity="0.35" filter="url(#sh)"/><circle cx="39.6" cy="39.6" r="11.6" fill="#F27024"/><rect x="85" y="60.5" width="491" height="3" fill="url(#tl)"/><circle cx="575.1" cy="62" r="6.6" fill="#E9602B"/>
<line x1="127" y1="182.8" x2="268" y2="182.8" stroke="#F5A532" stroke-width="2"/><circle cx="127" cy="182.8" r="5" fill="#F5A532"/><line x1="51.8" y1="397.1" x2="150" y2="397.1" stroke="#12A94E" stroke-width="2"/><circle cx="51.8" cy="397.1" r="5" fill="#12A94E"/><line x1="522.1" y1="449.4" x2="416" y2="449.4" stroke="#1B56A4" stroke-width="2"/><circle cx="522.1" cy="449.4" r="5" fill="#1B56A4"/><line x1="667.7" y1="197.2" x2="812" y2="197.2" stroke="#F5A532" stroke-width="2"/><circle cx="667.7" cy="197.2" r="5" fill="#F5A532"/><line x1="631.8" y1="416.8" x2="737" y2="416.8" stroke="#12A94E" stroke-width="2"/><circle cx="631.8" cy="416.8" r="5" fill="#12A94E"/><line x1="1119.7" y1="427.9" x2="1020" y2="427.9" stroke="#1B56A4" stroke-width="2"/><circle cx="1119.7" cy="427.9" r="5" fill="#1B56A4"/>
<circle cx="298" cy="340.5" r="89" fill="#fff"/><path d="M298.00,180.00A160.5,160.5 0 1 1 178.06,447.15L231.86,399.31A88.5,88.5 0 1 0 298.00,252.00Z" fill="url(#Lb)"/><path d="M178.06,447.15A160.5,160.5 0 0 1 214.18,203.63L251.78,265.03A88.5,88.5 0 0 0 231.86,399.31Z" fill="url(#Lg)"/><path d="M214.18,203.63A160.5,160.5 0 0 1 298.00,180.00L298.00,252.00A88.5,88.5 0 0 0 251.78,265.03Z" fill="url(#Lo)"/><path d="M881.50,181.00A163.2,163.2 0 0 1 930.77,499.78L908.52,429.52A89.5,89.5 0 0 0 881.50,254.70Z" fill="url(#Rb)"/><path d="M930.77,499.78A163.2,163.2 0 0 1 722.43,307.73L794.26,324.20A89.5,89.5 0 0 0 908.52,429.52Z" fill="url(#Rg)"/><path d="M722.43,307.73A163.2,163.2 0 0 1 881.50,181.00L881.50,254.70A89.5,89.5 0 0 0 794.26,324.20Z" fill="url(#Ro)"/>
<rect x="59" y="574" width="9.8" height="9.6" fill="url(#sqb59)"/><rect x="183" y="574" width="9.8" height="9.6" fill="url(#sqg183)"/><rect x="306.3" y="574" width="9.8" height="9.6" fill="url(#sqo306)"/><rect x="661.3" y="574" width="9.8" height="9.6" fill="url(#sqb661)"/><rect x="780.2" y="574" width="9.8" height="9.6" fill="url(#sqg780)"/><rect x="899.1" y="574" width="9.8" height="9.6" fill="url(#sqo899)"/>
<text x="68.53" y="48.95" font-size="25.15" font-weight="bold" font-style="normal" fill="#4e5054" stroke="#4e5054" stroke-width="0.5" stroke-linejoin="round" textLength="484.68" lengthAdjust="spacingAndGlyphs">KẾT QUẢ KINH DOANH THEO KHỐI</text><text x="157.26" y="128.35" font-size="23.69" font-weight="bold" font-style="normal" fill="#595959" stroke="#595959" stroke-width="0.5" stroke-linejoin="round" textLength="259.94" lengthAdjust="spacingAndGlyphs">Doanh thu theo khối</text><text x="788.70" y="128.35" font-size="23.69" font-weight="bold" font-style="normal" fill="#595959" stroke="#595959" stroke-width="0.5" stroke-linejoin="round" textLength="190.82" lengthAdjust="spacingAndGlyphs">LNTT theo khối</text><text x="1041.66" y="82.80" font-size="19.19" font-weight="normal" font-style="italic" fill="#1c1c1c" textLength="141.06" lengthAdjust="spacingAndGlyphs">Đơn vị: tỷ đồng</text><text x="147.02" y="170.47" font-size="18.10" font-weight="bold" font-style="normal" fill="#F5A532" stroke="#F5A532" stroke-width="0.45" stroke-linejoin="round" textLength="45.78" lengthAdjust="spacingAndGlyphs">6,132</text><text x="137.48" y="205.28" font-size="17.81" font-weight="bold" font-style="normal" fill="#F5A532" stroke="#F5A532" stroke-width="0.45" stroke-linejoin="round" textLength="68.50" lengthAdjust="spacingAndGlyphs">+0.05%</text><text x="64.85" y="388.88" font-size="18.10" font-weight="bold" font-style="normal" fill="#12A94E" stroke="#12A94E" stroke-width="0.45" stroke-linejoin="round" textLength="60.43" lengthAdjust="spacingAndGlyphs">19,507</text><text x="68.52" y="420.27" font-size="17.81" font-weight="bold" font-style="normal" fill="#12A94E" stroke="#12A94E" stroke-width="0.45" stroke-linejoin="round" textLength="64.73" lengthAdjust="spacingAndGlyphs">+10.8%</text><text x="457.68" y="438.57" font-size="18.10" font-weight="bold" font-style="normal" fill="#1B56A4" stroke="#1B56A4" stroke-width="0.45" stroke-linejoin="round" textLength="66.40" lengthAdjust="spacingAndGlyphs">44,475</text><text x="456.96" y="472.57" font-size="17.81" font-weight="bold" font-style="normal" fill="#1B56A4" stroke="#1B56A4" stroke-width="0.45" stroke-linejoin="round" textLength="61.67" lengthAdjust="spacingAndGlyphs">+13.7%</text><text x="682.31" y="186.58" font-size="18.10" font-weight="bold" font-style="normal" fill="#F5A532" stroke="#F5A532" stroke-width="0.45" stroke-linejoin="round" textLength="51.19" lengthAdjust="spacingAndGlyphs">2,792</text><text x="674.77" y="220.28" font-size="17.81" font-weight="bold" font-style="normal" fill="#F5A532" stroke="#F5A532" stroke-width="0.45" stroke-linejoin="round" textLength="68.70" lengthAdjust="spacingAndGlyphs">+24.0%</text><text x="654.69" y="406.57" font-size="18.10" font-weight="bold" font-style="normal" fill="#12A94E" stroke="#12A94E" stroke-width="0.45" stroke-linejoin="round" textLength="52.61" lengthAdjust="spacingAndGlyphs">4,364</text><text x="648.97" y="440.27" font-size="17.81" font-weight="bold" font-style="normal" fill="#12A94E" stroke="#12A94E" stroke-width="0.45" stroke-linejoin="round" textLength="61.36" lengthAdjust="spacingAndGlyphs">+21.6%</text><text x="1052.78" y="415.17" font-size="18.10" font-weight="bold" font-style="normal" fill="#1B56A4" stroke="#1B56A4" stroke-width="0.45" stroke-linejoin="round" textLength="53.57" lengthAdjust="spacingAndGlyphs">5,883</text><text x="1045.37" y="449.97" font-size="17.81" font-weight="bold" font-style="normal" fill="#1B56A4" stroke="#1B56A4" stroke-width="0.45" stroke-linejoin="round" textLength="60.95" lengthAdjust="spacingAndGlyphs">+12.5%</text><text x="237.67" y="351.55" font-size="36.77" font-weight="bold" font-style="normal" fill="#000" stroke="#000" stroke-width="0.7" stroke-linejoin="round" textLength="110.02" lengthAdjust="spacingAndGlyphs">70,113</text><text x="823.48" y="351.75" font-size="37.06" font-weight="bold" font-style="normal" fill="#000" stroke="#000" stroke-width="0.7" stroke-linejoin="round" textLength="119.09" lengthAdjust="spacingAndGlyphs">13,039</text><text x="251.49" y="226.45" font-size="14.83" font-weight="bold" font-style="normal" fill="#fff" stroke="#fff" stroke-width="0.3" stroke-linejoin="round" textLength="24.34" lengthAdjust="spacingAndGlyphs">9%</text><text x="157.26" y="327.55" font-size="14.97" font-weight="bold" font-style="normal" fill="#fff" stroke="#fff" stroke-width="0.3" stroke-linejoin="round" textLength="33.91" lengthAdjust="spacingAndGlyphs">28%</text><text x="395.29" y="397.75" font-size="14.97" font-weight="bold" font-style="normal" fill="#fff" stroke="#fff" stroke-width="0.3" stroke-linejoin="round" textLength="33.57" lengthAdjust="spacingAndGlyphs">63%</text><text x="788.24" y="250.65" font-size="14.97" font-weight="bold" font-style="normal" fill="#fff" stroke="#fff" stroke-width="0.3" stroke-linejoin="round" textLength="29.24" lengthAdjust="spacingAndGlyphs">21%</text><text x="990.66" y="330.75" font-size="14.97" font-weight="bold" font-style="normal" fill="#fff" stroke="#fff" stroke-width="0.3" stroke-linejoin="round" textLength="34.62" lengthAdjust="spacingAndGlyphs">45%</text><text x="778.27" y="443.45" font-size="14.97" font-weight="bold" font-style="normal" fill="#fff" stroke="#fff" stroke-width="0.3" stroke-linejoin="round" textLength="34.71" lengthAdjust="spacingAndGlyphs">34%</text><text x="71.61" y="583.70" font-size="15.70" font-weight="normal" font-style="normal" fill="#606060" textLength="90.03" lengthAdjust="spacingAndGlyphs">Công nghệ</text><text x="195.08" y="583.70" font-size="15.70" font-weight="normal" font-style="normal" fill="#606060" textLength="90.82" lengthAdjust="spacingAndGlyphs">Viễn thông</text><text x="319.08" y="583.70" font-size="15.70" font-weight="normal" font-style="normal" fill="#606060" textLength="200.52" lengthAdjust="spacingAndGlyphs">Giáo dục, Đầu tư và Khác</text><text x="674.91" y="583.70" font-size="15.70" font-weight="normal" font-style="normal" fill="#606060" textLength="89.93" lengthAdjust="spacingAndGlyphs">Công nghệ</text><text x="794.48" y="583.70" font-size="15.70" font-weight="normal" font-style="normal" fill="#606060" textLength="88.48" lengthAdjust="spacingAndGlyphs">Viễn thông</text><text x="912.08" y="583.70" font-size="15.70" font-weight="normal" font-style="normal" fill="#606060" textLength="199.72" lengthAdjust="spacingAndGlyphs">Giáo dục, Đầu tư và Khác</text>
</svg>
</body></html>
